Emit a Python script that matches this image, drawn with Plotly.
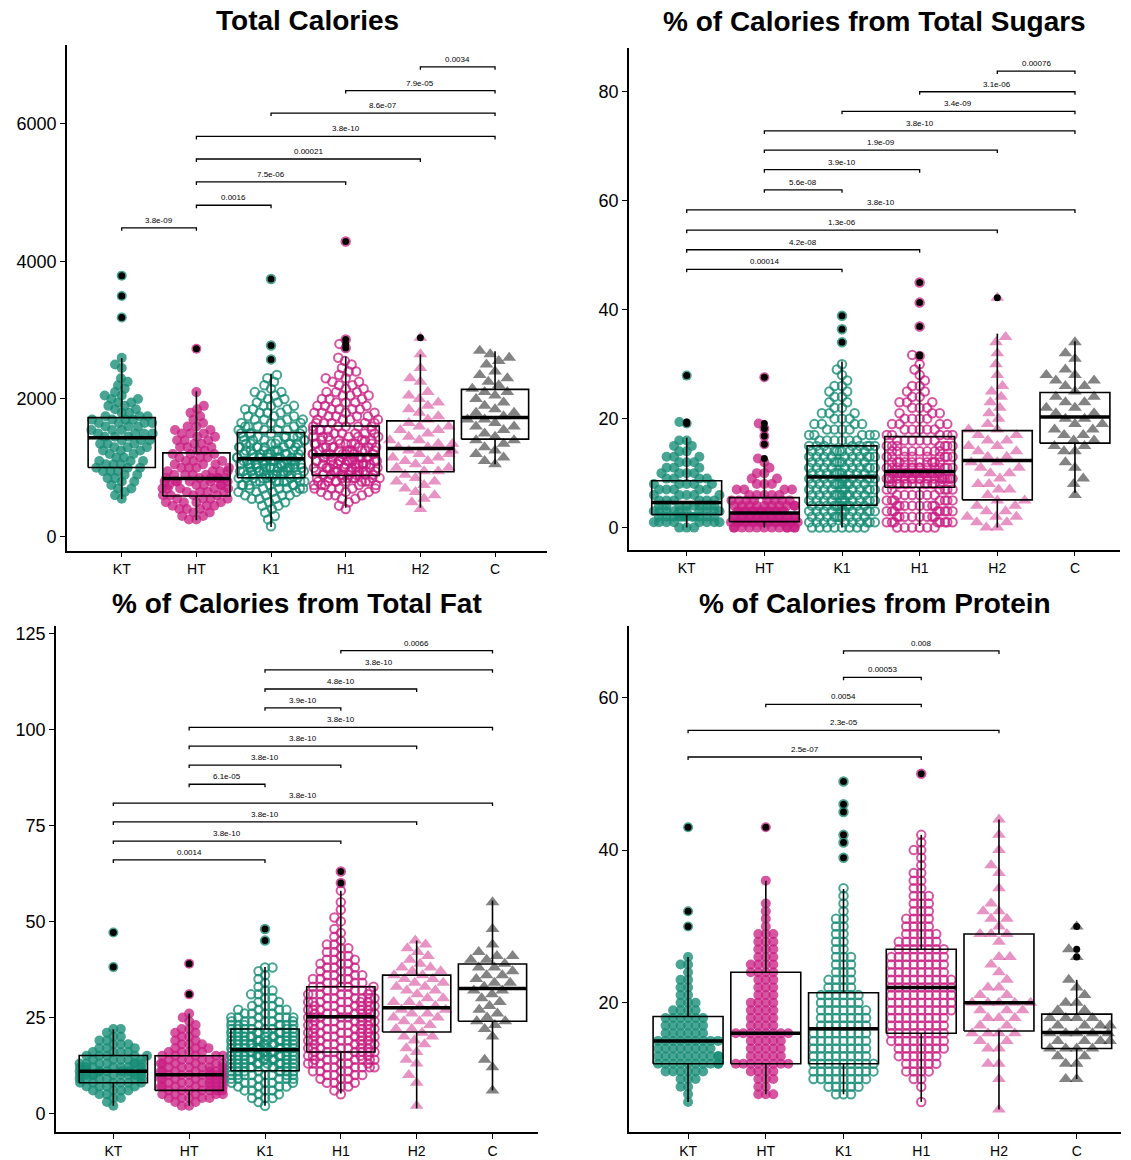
import numpy as np
import plotly.graph_objects as go

W, H = 1131, 1160
FONT = "Liberation Sans, Arial, Helvetica, sans-serif"

categories = ["KT", "HT", "K1", "H1", "H2", "C"]

# ---------------- Total Calories (levels every 50 kcal, counts of points per level) ----------------
cal_levels = [100, 150, 200, 250, 300, 350, 400, 450, 500, 550, 600, 650, 700, 750, 800, 850,
              900, 950, 1000, 1050, 1100, 1150, 1200, 1250, 1300, 1350, 1400, 1450, 1500, 1550,
              1600, 1650, 1700, 1750, 1800, 1850, 1900, 1950, 2000, 2050, 2100, 2150, 2200, 2250,
              2300, 2350, 2400, 2450, 2500, 2550, 2600, 2650, 2700]
cal_KT = [0, 0, 0, 0, 0, 0, 0, 0, 0, 1, 1, 1, 2, 1, 2, 2, 2, 3, 3, 3, 3, 2, 2, 3, 3, 3, 3, 3, 4, 3,
          3, 4, 4, 3, 2, 2, 2, 2, 2, 2, 1, 1, 1, 1, 1, 0, 0, 1, 1, 0, 1, 0, 0]
cal_HT = [0, 0, 0, 2, 2, 2, 3, 3, 4, 4, 4, 4, 5, 5, 6, 6, 4, 4, 4, 3, 3, 3, 3, 2, 3, 2, 3, 2, 3, 2,
          2, 1, 1, 1, 1, 1, 1, 0, 0, 0, 1, 0, 0, 0, 0, 0, 0, 0, 0, 0, 0, 0, 0]
cal_K1 = [0, 1, 0, 1, 1, 1, 1, 2, 2, 3, 4, 4, 6, 6, 8, 8, 10, 10, 11, 11, 10, 10, 8, 8, 7, 7, 6, 6,
          5, 5, 4, 4, 4, 3, 3, 3, 3, 2, 2, 2, 2, 1, 1, 1, 1, 1, 0, 0, 0, 0, 0, 0, 0]
cal_H1 = [0, 0, 0, 0, 0, 0, 1, 1, 1, 2, 3, 3, 5, 5, 8, 8, 10, 10, 10, 10, 10, 10, 8, 8, 7, 7, 6, 6,
          5, 5, 5, 5, 4, 4, 4, 4, 3, 3, 3, 3, 3, 2, 2, 2, 2, 1, 2, 1, 1, 1, 1, 0, 0]
cal_H2 = [0, 0, 0, 0, 0, 0, 1, 0, 1, 1, 1, 1, 1, 1, 2, 1, 1, 2, 2, 1, 2, 2, 2, 2, 2, 2, 2, 1, 1, 2,
          2, 1, 1, 1, 1, 1, 1, 1, 1, 1, 1, 0, 0, 1, 1, 0, 0, 1, 0, 0, 0, 1, 0]
cal_C = [0, 0, 0, 0, 0, 0, 0, 0, 0, 0, 0, 0, 0, 0, 0, 0, 0, 0, 0, 1, 1, 1, 1, 1, 1, 1, 2, 1, 1, 1,
         2, 1, 2, 1, 2, 1, 1, 1, 1, 1, 2, 1, 1, 1, 1, 1, 1, 0, 1, 1, 1, 1, 1]
cal_out_KT = [3183, 3497, 3792]
cal_out_HT = [2729]
cal_out_K1 = [2575, 2778, 3743]
cal_out_H1 = [2740, 2800, 2864, 4289]
cal_out_H2 = [2888]
cal_out_C = []
cal_lo = [546, 236, 140, 420, 420, 1053]
cal_q1 = [1004, 590, 855, 888, 942, 1416]
cal_med = [1435, 845, 1130, 1188, 1280, 1729]
cal_q3 = [1729, 1217, 1512, 1608, 1681, 2140]
cal_hi = [2594, 2111, 2367, 2618, 2647, 2695]
cal_br_from = ["H2", "H1", "K1", "HT", "HT", "HT", "HT", "KT"]
cal_br_to = ["C", "C", "C", "C", "H2", "H1", "K1", "HT"]
cal_br_y = [6826, 6481, 6154, 5815, 5487, 5154, 4815, 4487]
cal_br_p = ["0.0034", "7.9e-05", "8.6e-07", "3.8e-10", "0.00021", "7.5e-06", "0.0016", "3.8e-09"]

# ---------------- % Calories from Total Sugars (levels every 1 %) ----------------
sug_levels = list(range(0, 36))
sug_KT = [3, 8, 12, 10, 8, 6, 5, 5, 5, 4, 4, 3, 3, 3, 2, 2, 2, 0, 0, 0, 0, 0, 0, 0, 0, 0, 0, 0, 0, 0, 0, 0, 0, 0, 0, 0]
sug_HT = [12, 20, 18, 14, 10, 8, 5, 4, 3, 2, 2, 1, 1, 0, 0, 0, 0, 0, 0, 0, 0, 0, 0, 0, 0, 0, 0, 0, 0, 0, 0, 0, 0, 0, 0, 0]
sug_K1 = [8, 10, 10, 11, 11, 11, 11, 11, 11, 11, 10, 10, 10, 10, 10, 8, 6, 5, 4, 4, 3, 3, 2, 2, 2, 2, 2, 1, 1, 1, 1, 0, 0, 0, 0, 0]
sug_H1 = [6, 8, 8, 8, 8, 7, 6, 6, 12, 20, 22, 14, 10, 9, 8, 7, 6, 5, 5, 4, 4, 3, 3, 3, 2, 2, 2, 1, 1, 1, 1, 0, 0, 0, 0, 0]
sug_H2 = [2, 2, 3, 2, 2, 2, 1, 2, 2, 1, 2, 2, 2, 2, 2, 2, 2, 2, 2, 1, 1, 1, 1, 1, 1, 1, 1, 0, 1, 0, 1, 0, 1, 0, 1, 1]
sug_C = [0, 0, 0, 0, 0, 0, 1, 0, 1, 1, 0, 1, 1, 0, 2, 2, 2, 2, 2, 2, 2, 2, 2, 2, 2, 1, 2, 2, 2, 1, 0, 1, 1, 0, 1, 0]
sug_out_KT = [19.1, 19.4, 27.9]
sug_out_HT = [12.7, 15.3, 16.8, 18.2, 19.1, 27.6]
sug_out_K1 = [34.0, 36.4, 38.9]
sug_out_H1 = [31.5, 31.7, 36.9, 41.3, 45.0]
sug_out_H2 = [42.2]
sug_out_C = []
sug_lo = [0.0, 0.0, 0.0, 0.3, 0.0, 6.4]
sug_q1 = [2.4, 1.1, 4.1, 7.4, 5.1, 15.5]
sug_med = [4.6, 2.7, 9.3, 10.3, 12.3, 20.3]
sug_q3 = [8.6, 5.5, 15.0, 16.7, 17.8, 24.8]
sug_hi = [16.5, 12.0, 30.5, 30.0, 35.6, 34.2]
sug_br_from = ["H2", "H1", "K1", "HT", "HT", "HT", "HT", "KT", "KT", "KT", "KT"]
sug_br_to = ["C", "C", "C", "C", "H2", "H1", "K1", "C", "H2", "H1", "K1"]
sug_br_y = [83.8, 80.0, 76.4, 72.8, 69.3, 65.7, 62.0, 58.3, 54.6, 51.0, 47.4]
sug_br_p = ["0.00076", "3.1e-06", "3.4e-09", "3.8e-10", "1.9e-09", "3.9e-10", "5.6e-08",
            "3.8e-10", "1.3e-06", "4.2e-08", "0.00014"]

# ---------------- % Calories from Total Fat (levels every 1 %, 2..58) ----------------
fat_levels = list(range(2, 59))
fat_KT = [1, 1, 2, 2, 4, 4, 6, 6, 9, 9, 7, 7, 5, 5, 4, 3, 3, 2, 2, 1, 2,
          0, 0, 0, 0, 0, 0, 0, 0, 0, 0, 0, 0, 0, 0, 0, 0, 0, 0, 0, 0, 0, 0, 0, 0, 0, 0, 0, 0, 0, 0, 0, 0, 0, 0, 0, 0]
fat_HT = [2, 2, 5, 5, 7, 7, 7, 7, 7, 7, 6, 6, 5, 5, 4, 3, 3, 2, 2, 2, 2, 1, 1, 1, 1,
          0, 0, 0, 0, 0, 0, 0, 0, 0, 0, 0, 0, 0, 0, 0, 0, 0, 0, 0, 0, 0, 0, 0, 0, 0, 0, 0, 0, 0, 0, 0, 0]
fat_K1 = [1, 1, 3, 2, 4, 4, 6, 6, 8, 8, 10, 10, 11, 11, 12, 12, 11, 11, 10, 10, 8, 8, 6, 6, 4, 4, 3, 2, 2, 2,
          2, 1, 1, 1, 1, 1, 2, 0, 0, 0, 0, 0, 0, 0, 0, 0, 0, 0, 0, 0, 0, 0, 0, 0, 0, 0, 0]
fat_H1 = [0, 0, 0, 1, 1, 2, 3, 3, 4, 4, 6, 6, 7, 7, 7, 7, 7, 7, 7, 7, 7, 7, 7, 7, 7, 7, 7, 7, 6, 6,
          5, 5, 4, 4, 4, 3, 3, 3, 3, 2, 2, 2, 2, 1, 1, 1, 1, 0, 1, 1, 0, 1, 0, 1, 0, 0, 1]
fat_H2 = [1, 0, 0, 0, 0, 0, 1, 0, 1, 0, 0, 1, 1, 0, 1, 1, 1, 1, 2, 1, 2, 1, 2, 2, 2, 2, 2, 2, 2, 1,
          2, 2, 2, 2, 2, 2, 2, 1, 1, 1, 1, 1, 1, 1, 0, 0, 0, 0, 0, 0, 0, 0, 0, 0, 0, 0, 0]
fat_C = [0, 0, 0, 0, 1, 0, 0, 0, 0, 0, 1, 0, 1, 0, 0, 0, 0, 0, 1, 0, 1, 1, 2, 1, 1, 1, 1, 1, 1, 1,
         2, 1, 2, 1, 2, 1, 2, 1, 2, 2, 1, 0, 1, 0, 0, 0, 1, 0, 0, 0, 0, 0, 0, 1, 0, 0, 0]
fat_out_KT = [38.1, 47.1]
fat_out_HT = [31.0, 39.0]
fat_out_K1 = [45.0, 48.0]
fat_out_H1 = [60.0, 63.0]
fat_out_H2 = []
fat_out_C = []
fat_lo = [2.0, 2.0, 2.0, 5.2, 1.3, 6.0]
fat_q1 = [8.0, 6.0, 11.1, 16.0, 21.2, 24.0]
fat_med = [11.0, 10.1, 16.6, 25.2, 27.5, 32.5]
fat_q3 = [15.1, 15.0, 22.0, 33.0, 36.0, 38.9]
fat_hi = [21.9, 26.0, 38.1, 58.0, 45.0, 55.4]
fat_br_from = ["H1", "K1", "K1", "K1", "HT", "HT", "HT", "HT", "KT", "KT", "KT", "KT"]
fat_br_to = ["C", "C", "H2", "H1", "C", "H2", "H1", "K1", "C", "H2", "H1", "K1"]
fat_br_y = [120.5, 115.5, 110.5, 105.6, 100.5, 95.6, 90.7, 85.7, 80.8, 75.9, 70.9, 66.0]
fat_br_p = ["0.0066", "3.8e-10", "4.8e-10", "3.9e-10", "3.8e-10", "3.8e-10", "3.8e-10",
            "6.1e-05", "3.8e-10", "3.8e-10", "3.8e-10", "0.0014"]

# ---------------- % Calories from Protein (levels every 1 %, 6..44) ----------------
pro_levels = list(range(6, 45))
pro_KT = [0, 1, 1, 2, 3, 6, 10, 10, 8, 9, 6, 6, 6, 4, 3, 2, 2, 2, 1, 2, 1,
          0, 0, 0, 0, 0, 0, 0, 0, 0, 0, 0, 0, 0, 0, 0, 0, 0, 0]
pro_HT = [0, 0, 3, 2, 3, 4, 8, 5, 5, 5, 8, 4, 4, 4, 4, 3, 3, 3, 4, 4, 3, 3, 3, 3, 1, 1, 1, 1, 0, 0, 1,
          0, 0, 0, 0, 0, 0, 0, 0]
pro_K1 = [0, 0, 3, 5, 8, 9, 9, 8, 8, 8, 8, 7, 7, 7, 6, 6, 4, 4, 3, 3, 3, 2, 2, 2, 2, 2, 1, 1, 1, 1,
          0, 0, 0, 0, 0, 0, 0, 0, 0]
pro_H1 = [0, 1, 0, 1, 2, 4, 5, 6, 7, 8, 8, 8, 8, 9, 9, 9, 9, 9, 8, 8, 8, 7, 6, 5, 4, 4, 3, 3, 3, 2,
          2, 2, 1, 1, 2, 1, 1, 0, 0]
pro_H2 = [1, 0, 0, 0, 1, 0, 2, 0, 2, 2, 4, 2, 3, 3, 5, 2, 2, 1, 1, 1, 2, 0, 1, 3, 1, 2, 2, 1, 0, 1,
          0, 1, 1, 0, 1, 0, 1, 0, 1]
pro_C = [0, 0, 0, 0, 2, 0, 2, 2, 4, 4, 5, 4, 4, 2, 2, 1, 1, 1,
         0, 0, 0, 0, 0, 0, 0, 0, 0, 0, 0, 0, 0, 0, 0, 0, 0, 0, 0, 0, 0]
pro_out_KT = [30.0, 32.0, 43.0]
pro_out_HT = [43.0]
pro_out_K1 = [39.0, 41.0, 42.0, 45.0, 46.0, 49.0]
pro_out_H1 = [50.0]
pro_out_H2 = []
pro_out_C = [26.0, 27.0, 30.0]
pro_lo = [7.0, 8.0, 8.0, 7.0, 6.0, 10.0]
pro_q1 = [12.0, 12.0, 12.0, 16.0, 16.3, 14.0]
pro_med = [15.0, 16.0, 16.6, 22.0, 20.0, 16.1]
pro_q3 = [18.2, 24.0, 21.3, 27.0, 29.0, 18.5]
pro_hi = [26.0, 36.0, 34.9, 42.0, 44.0, 23.0]
pro_br_from = ["K1", "K1", "HT", "KT", "KT"]
pro_br_to = ["H2", "H1", "H1", "H2", "H1"]
pro_br_y = [66.1, 62.65, 59.1, 55.7, 52.2]
pro_br_p = ["0.008", "0.00053", "0.0054", "2.3e-05", "2.5e-07"]

# ---------------- styling ----------------
TEAL = "rgba(22,140,116,0.78)"
PINK = "rgba(200,28,130,0.75)"
PINK_TRI = "rgba(212,60,150,0.55)"
GREY = "rgba(30,30,30,0.55)"
g_symbol = ["circle", "circle", "circle-open", "circle-open", "triangle-up", "triangle-up"]
g_color = [TEAL, PINK, TEAL, PINK, PINK_TRI, GREY]
g_size = [10, 10, 8.5, 8.5, 12, 12]
g_spacing = [7.5, 7.5, 7.5, 7.5, 11, 11]
CORRAL = 34.0

panels = [
    dict(title="Total Calories", levels=cal_levels,
         counts=[cal_KT, cal_HT, cal_K1, cal_H1, cal_H2, cal_C],
         outs=[cal_out_KT, cal_out_HT, cal_out_K1, cal_out_H1, cal_out_H2, cal_out_C],
         lo=cal_lo, q1=cal_q1, med=cal_med, q3=cal_q3, hi=cal_hi,
         bf=cal_br_from, bt=cal_br_to, by=cal_br_y, bp=cal_br_p,
         xd=(67, 547), yd=(42, 549), xr=(-0.733, 5.696), yr=(-203, 7145),
         yt=[0, 2000, 4000, 6000], ty=18),
    dict(title="% of Calories from Total Sugars", levels=sug_levels,
         counts=[sug_KT, sug_HT, sug_K1, sug_H1, sug_H2, sug_C],
         outs=[sug_out_KT, sug_out_HT, sug_out_K1, sug_out_H1, sug_out_H2, sug_out_C],
         lo=sug_lo, q1=sug_q1, med=sug_med, q3=sug_q3, hi=sug_hi,
         bf=sug_br_from, bt=sug_br_to, by=sug_br_y, bp=sug_br_p,
         xd=(629, 1120), yd=(45, 548), xr=(-0.743, 5.58), yr=(-4.03, 88.05),
         yt=[0, 20, 40, 60, 80], ty=19),
    dict(title="% of Calories from Total Fat", levels=fat_levels,
         counts=[fat_KT, fat_HT, fat_K1, fat_H1, fat_H2, fat_C],
         outs=[fat_out_KT, fat_out_HT, fat_out_K1, fat_out_H1, fat_out_H2, fat_out_C],
         lo=fat_lo, q1=fat_q1, med=fat_med, q3=fat_q3, hi=fat_hi,
         bf=fat_br_from, bt=fat_br_to, by=fat_br_y, bp=fat_br_p,
         xd=(56, 538), yd=(625, 1132), xr=(-0.756, 5.6), yr=(-4.85, 126.8),
         yt=[0, 25, 50, 75, 100, 125], ty=602),
    dict(title="% of Calories from Protein", levels=pro_levels,
         counts=[pro_KT, pro_HT, pro_K1, pro_H1, pro_H2, pro_C],
         outs=[pro_out_KT, pro_out_HT, pro_out_K1, pro_out_H1, pro_out_H2, pro_out_C],
         lo=pro_lo, q1=pro_q1, med=pro_med, q3=pro_q3, hi=pro_hi,
         bf=pro_br_from, bt=pro_br_to, by=pro_br_y, bp=pro_br_p,
         xd=(629, 1121), yd=(625, 1132), xr=(-0.76, 5.57), yr=(3.05, 69.32),
         yt=[20, 40, 60], ty=602),
]


def swarm(ypx, D):
    """Beeswarm offsets (pixels) for points with vertical pixel positions ypx."""
    n = len(ypx)
    xs = np.zeros(n)
    order = np.argsort(ypx, kind="stable")
    placed = []
    for i in order:
        y = ypx[i]
        ivs = []
        for (xj, yj) in placed:
            dy = abs(y - yj)
            if dy < D:
                h = np.sqrt(D * D - dy * dy)
                ivs.append((xj - h, xj + h))
        cands = [0.0] + [a for a, b in ivs] + [b for a, b in ivs]
        cands.sort(key=lambda c: (round(abs(c), 6), c))
        for c in cands:
            if all(not (a + 1e-6 < c < b - 1e-6) for a, b in ivs):
                xs[i] = c
                break
        placed.append((xs[i], y))
    # wrap points that leave the corral
    xs = np.where(np.abs(xs) > CORRAL, ((xs + CORRAL) % (2 * CORRAL)) - CORRAL, xs)
    return xs


fig = go.Figure()
annotations = []
layout_axes = {}

for k, p in enumerate(panels, start=1):
    xa = "x" if k == 1 else f"x{k}"
    ya = "y" if k == 1 else f"y{k}"
    xkey = "xaxis" if k == 1 else f"xaxis{k}"
    ykey = "yaxis" if k == 1 else f"yaxis{k}"
    x0, x1 = p["xd"]
    y0, y1 = p["yd"]
    xr0, xr1 = p["xr"]
    yr0, yr1 = p["yr"]
    px_per_x = (x1 - x0) / (xr1 - xr0)
    px_per_y = (y1 - y0) / (yr1 - yr0)

    # swarm points
    for g in range(6):
        vals = np.concatenate([np.repeat(np.array(p["levels"], float), p["counts"][g]),
                               np.array(p["outs"][g], float)])
        ypx = (vals - yr0) * px_per_y
        off = swarm(ypx, g_spacing[g]) / px_per_x
        mk = dict(symbol=g_symbol[g], size=g_size[g], color=g_color[g])
        if "open" in g_symbol[g]:
            mk["line"] = dict(width=2, color=g_color[g])
        else:
            mk["line"] = dict(width=0)
        fig.add_trace(go.Scatter(x=g + off, y=vals, mode="markers", marker=mk,
                                 xaxis=xa, yaxis=ya, hoverinfo="skip"))

    # boxes and whiskers
    bx, byy = [], []
    mx, my = [], []
    for g in range(6):
        l, r = g - 0.45, g + 0.45
        bx += [l, r, r, l, l, None, g, g, None, g, g, None]
        byy += [p["q1"][g], p["q1"][g], p["q3"][g], p["q3"][g], p["q1"][g], None,
                p["q3"][g], p["hi"][g], None, p["q1"][g], p["lo"][g], None]
        mx += [l, r, None]
        my += [p["med"][g], p["med"][g], None]
    fig.add_trace(go.Scatter(x=bx, y=byy, mode="lines", line=dict(color="black", width=1.6),
                             xaxis=xa, yaxis=ya, hoverinfo="skip"))
    fig.add_trace(go.Scatter(x=mx, y=my, mode="lines", line=dict(color="black", width=3.5),
                             xaxis=xa, yaxis=ya, hoverinfo="skip"))

    # outliers (black dots)
    ox, oy = [], []
    for g in range(6):
        for v in p["outs"][g]:
            ox.append(g)
            oy.append(v)
    fig.add_trace(go.Scatter(x=ox, y=oy, mode="markers",
                             marker=dict(color="black", size=7, line=dict(width=0)),
                             xaxis=xa, yaxis=ya, hoverinfo="skip"))

    # significance brackets
    tick = 3.0 / px_per_y
    sx, sy = [], []
    for f, t, h, lab in zip(p["bf"], p["bt"], p["by"], p["bp"]):
        a, b = categories.index(f), categories.index(t)
        sx += [a, a, b, b, None]
        sy += [h - tick, h, h, h - tick, None]
        annotations.append(dict(x=(a + b) / 2, y=h, xref=xa, yref=ya, text=lab,
                                showarrow=False, yanchor="bottom", yshift=1,
                                font=dict(size=8, color="black", family=FONT)))
    fig.add_trace(go.Scatter(x=sx, y=sy, mode="lines", line=dict(color="black", width=1.3),
                             xaxis=xa, yaxis=ya, hoverinfo="skip"))

    # title
    annotations.append(dict(x=(x0 + x1) / 2 / W, y=1 - p["ty"] / H, xref="paper", yref="paper",
                            text="<b>" + p["title"] + "</b>", showarrow=False,
                            xanchor="center", yanchor="middle",
                            font=dict(size=28, color="black", family=FONT)))

    layout_axes[xkey] = dict(domain=[x0 / W, x1 / W], range=[xr0, xr1], anchor=ya,
                             tickmode="array", tickvals=list(range(6)), ticktext=categories,
                             showline=True, linecolor="black", linewidth=1.6,
                             ticks="outside", ticklen=5, tickwidth=1.4, tickcolor="black",
                             showgrid=False, zeroline=False,
                             tickfont=dict(size=14, color="black", family=FONT))
    layout_axes[ykey] = dict(domain=[1 - y1 / H, 1 - y0 / H], range=[yr0, yr1], anchor=xa,
                             tickmode="array", tickvals=p["yt"],
                             showline=True, linecolor="black", linewidth=1.6,
                             ticks="outside", ticklen=5, tickwidth=1.4, tickcolor="black",
                             showgrid=False, zeroline=False,
                             tickfont=dict(size=18, color="black", family=FONT))

fig.update_layout(width=W, height=H, margin=dict(l=0, r=0, t=0, b=0),
                  paper_bgcolor="white", plot_bgcolor="white", showlegend=False,
                  font=dict(family=FONT, color="black"), annotations=annotations,
                  **layout_axes)

fig.write_html("out.html", config={"displayModeBar": False},
               post_script="document.body.style.margin='0px';")
